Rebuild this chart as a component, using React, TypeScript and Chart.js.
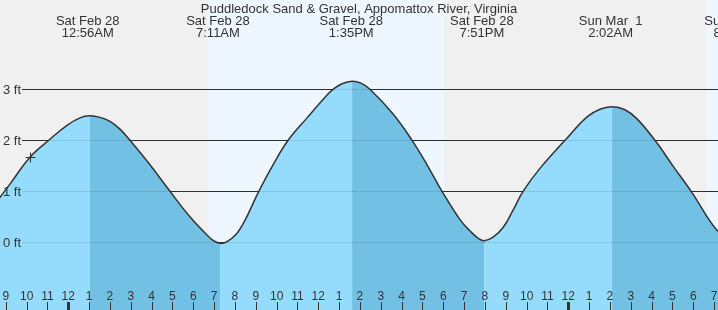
import React, { useEffect, useRef } from "react";
import { Chart, registerables } from "chart.js";

Chart.register(...registerables);

// Hours since Sat Feb 28 00:00, and tide height in feet
const times = [
  -3.3, -2.8, -1.84, -0.88, -0.08, 0.56, 1.04, 1.52, 2.0, 2.48, 2.96, 3.92, 4.88,
  5.84, 6.64, 6.95, 7.28, 7.6, 8.08, 8.4, 8.72, 9.12, 9.83, 10.55, 11.46,
  12.42, 12.71, 13.14, 13.62, 14.05, 14.48, 15.58, 16.5, 17.22, 17.94, 18.81,
  19.29, 19.67, 19.96, 20.39, 20.87, 21.35, 21.83, 22.64, 23.84, 24.9, 25.52,
  26.1, 26.72, 27.3, 28.16, 29.02, 29.93, 31.19, 32.0,
];
const heights = [
  0.87, 1.14, 1.67, 2.02, 2.29, 2.44, 2.48, 2.45, 2.37, 2.22, 2.0, 1.52, 1.0,
  0.5, 0.15, 0.04, -0.02, 0.01, 0.17, 0.37, 0.63, 0.98, 1.52, 2.0, 2.44,
  2.89, 3.0, 3.11, 3.16, 3.12, 3.0, 2.52, 2.0, 1.52, 1.0, 0.44,
  0.22, 0.08, 0.03, 0.1, 0.29, 0.63, 1.0, 1.45, 2.0, 2.46, 2.61,
  2.66, 2.6, 2.42, 2.0, 1.5, 0.98, 0.21, 0.02,
];

// High / low labels
const extremeTimes = [0.933, 7.183, 13.583, 19.85, 26.033, 32.05];
const extremeDays = ["Sat Feb 28", "Sat Feb 28", "Sat Feb 28", "Sat Feb 28", "Sun Mar  1", "Sun Mar  1"];
const extremeClock = ["12:56AM", "7:11AM", "1:35PM", "7:51PM", "2:02AM", "8:09AM"];

// Daylight intervals (sunrise, sunset) in hours
const daylight: [number, number][] = [
  [6.72, 18.05],
  [30.65, 42.0],
];

const ftTicks = [0, 1, 2, 3];
const ftLabels = ["0 ft", "1 ft", "2 ft", "3 ft"];
const hourTicks = Array.from({ length: 35 }, (_, i) => i - 3); // -3 .. 31

// Current-time marker
const nowTime = -1.84;
const nowHeight = 1.67;

const TITLE = "Puddledock Sand & Gravel, Appomattox River, Virginia";

const LIGHT = "#95dcfc";
const DARK = "#72c1e5";
const FONT = "Liberation Sans, Arial, sans-serif";
const TEXT = "#333";

if (typeof document !== "undefined") document.body.style.margin = "0";

const decorPlugin = {
  id: "tideDecor",
  beforeDraw(chart: any) {
    const { ctx, scales } = chart;
    const x = scales.x;
    const y = scales.y;
    const W = chart.width;
    const H = chart.height;
    ctx.save();
    ctx.fillStyle = "#f0f0f0";
    ctx.fillRect(0, 0, W, H);
    ctx.fillStyle = "#eef7ff";
    for (const [s, e] of daylight) {
      const x1 = x.getPixelForValue(s);
      const x2 = x.getPixelForValue(e);
      ctx.fillRect(x1, 0, x2 - x1, H);
    }
    ctx.strokeStyle = "#333";
    ctx.lineWidth = 1;
    for (const v of ftTicks) {
      const py = Math.round(y.getPixelForValue(v)) + 0.5;
      ctx.beginPath();
      ctx.moveTo(22, py);
      ctx.lineTo(W, py);
      ctx.stroke();
    }
    ctx.restore();
  },
  afterDatasetsDraw(chart: any) {
    const { ctx, scales } = chart;
    const x = scales.x;
    const y = scales.y;
    const W = chart.width;
    const H = chart.height;
    ctx.save();
    // faint gridlines over fill
    ctx.strokeStyle = "rgba(0,0,0,0.1)";
    ctx.lineWidth = 1;
    for (const v of ftTicks) {
      const py = Math.round(y.getPixelForValue(v)) + 0.5;
      ctx.beginPath();
      ctx.moveTo(22, py);
      ctx.lineTo(W, py);
      ctx.stroke();
    }
    // current time marker
    const mx = Math.round(x.getPixelForValue(nowTime)) + 0.5;
    const my = Math.round(y.getPixelForValue(nowHeight)) + 0.5;
    ctx.strokeStyle = "#333";
    ctx.beginPath();
    ctx.moveTo(mx - 5, my);
    ctx.lineTo(mx + 5, my);
    ctx.moveTo(mx, my - 5);
    ctx.lineTo(mx, my + 5);
    ctx.stroke();

    ctx.fillStyle = TEXT;
    ctx.textBaseline = "alphabetic";
    // y labels
    ctx.font = `13px ${FONT}`;
    ctx.textAlign = "left";
    ftTicks.forEach((v, i) => {
      const py = y.getPixelForValue(v);
      ctx.fillText(ftLabels[i], 3, py + 4.5);
    });
    // title
    ctx.textAlign = "center";
    ctx.fillText(TITLE, W / 2, 13);
    // extreme labels
    extremeTimes.forEach((t, i) => {
      const px = x.getPixelForValue(t);
      ctx.fillText(extremeDays[i], px, 25);
      ctx.fillText(extremeClock[i], px, 37);
    });
    // hour labels and ticks
    ctx.font = `12px ${FONT}`;
    for (const h of hourTicks) {
      const px = x.getPixelForValue(h);
      const hh = ((h % 12) + 12) % 12 || 12;
      ctx.fillText(String(hh), px, 300);
      const midnight = ((h % 24) + 24) % 24 === 0;
      ctx.fillRect(Math.round(px) - (midnight ? 1 : 0), 302, midnight ? 3 : 1, H - 302);
    }
    ctx.restore();
  },
};

export default function App() {
  const ref = useRef<HTMLCanvasElement | null>(null);

  useEffect(() => {
    document.body.style.margin = "0";
    if (!ref.current) return;
    const chart = new Chart(ref.current, {
      type: "line",
      data: {
        datasets: [
          {
            data: times.map((t, i) => ({ x: t, y: heights[i] })),
            borderColor: "#333",
            borderWidth: 1.5,
            pointRadius: 0,
            pointBorderWidth: 0,
            pointHitRadius: 0,
            fill: "start",
            backgroundColor: LIGHT,
            tension: 0.4,
            segment: {
              backgroundColor: (c: any) => (c.p1.parsed.y < c.p0.parsed.y ? DARK : LIGHT),
            },
          } as any,
        ],
      },
      options: {
        animation: false,
        responsive: false,
        layout: { padding: 0 },
        plugins: { legend: { display: false }, tooltip: { enabled: false } },
        scales: {
          x: { type: "linear", min: -3.278, max: 31.186, display: false },
          y: { type: "linear", min: -1.327, max: 4.751, display: false },
        },
      },
      plugins: [decorPlugin],
    });
    return () => chart.destroy();
  }, []);

  return (
    <div style={{ position: "fixed", left: 0, top: 0, width: 718, height: 310 }}>
      <canvas ref={ref} width={718} height={310} style={{ display: "block" }} />
    </div>
  );
}
